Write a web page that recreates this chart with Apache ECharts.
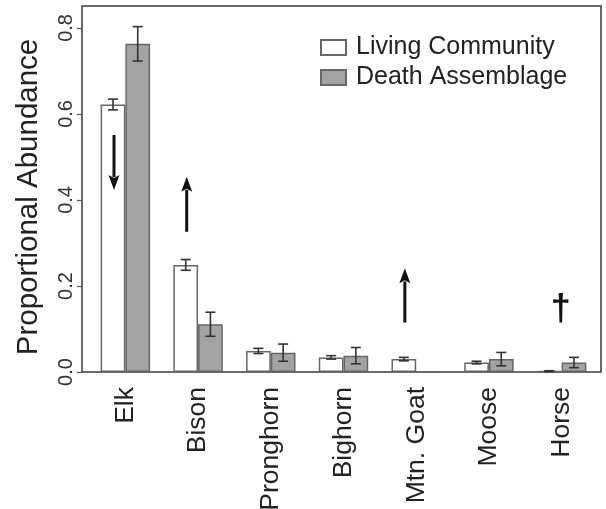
<!DOCTYPE html>
<html>
<head>
<meta charset="utf-8">
<script src="https://cdn.jsdelivr.net/npm/echarts@6/dist/echarts.min.js"></script>
<style>
html,body{margin:0;padding:0;background:#fff;}
#c{width:606px;height:509px;}
</style>
</head>
<body>
<div id="c"></div>
<script>
// ---- data ----
var categories = ['Elk', 'Bison', 'Pronghorn', 'Bighorn', 'Mtn. Goat', 'Moose', 'Horse'];
var livingValues = [0.622, 0.249, 0.049, 0.034, 0.030, 0.022, 0.002];
var livingErr    = [0.0125, 0.0125, 0.006, 0.004, 0.004, 0.003, 0.001];
var deathValues  = [0.763, 0.111, 0.045, 0.038, 0, 0.030, 0.022];
var deathErr     = [0.040, 0.028, 0.020, 0.019, 0, 0.0155, 0.012];
var yTicks = [0, 0.2, 0.4, 0.6, 0.8];
// annotation arrows: [category index, from value, to value]
var arrows = [[0, 0.551, 0.423], [1, 0.326, 0.454], [4, 0.115, 0.241]];
// dagger annotation: [category index, value]
var daggers = [[6, 0.145]];

var FONT = 'Liberation Sans, Arial, Helvetica, sans-serif';
var CAT_GAP = 0.32;

function barOffset(api, side) {
  var band = api.size([1, 0])[0];
  var bw = band * (1 - CAT_GAP) / 2;
  return side * bw / 2;
}

var errData = [];
for (var i = 0; i < categories.length; i++) {
  if (livingErr[i] > 0) errData.push([i, livingValues[i] - livingErr[i], livingValues[i] + livingErr[i], -1]);
  if (deathErr[i] > 0) errData.push([i, deathValues[i] - deathErr[i], deathValues[i] + deathErr[i], 1]);
}

var chart = echarts.init(document.getElementById('c'), null, {renderer: 'canvas'});
chart.setOption({
  animation: false,
  backgroundColor: '#fff',
  grid: [
    {left: 82, right: 5, top: 6, bottom: 137, outerBoundsMode: 'none', containLabel: false,
     show: true, borderColor: '#3a3a3a', borderWidth: 1.5, backgroundColor: 'transparent'},
    {left: 89, right: 8, top: 6, bottom: 137, outerBoundsMode: 'none', containLabel: false}
  ],
  legend: {
    orient: 'vertical',
    left: 315,
    top: 30,
    itemWidth: 25,
    itemHeight: 15,
    itemGap: 5,
    icon: 'rect',
    data: ['Living Community', 'Death Assemblage'],
    textStyle: {fontFamily: FONT, fontSize: 25, color: '#222', padding: [0, 0, 0, 5]}
  },
  xAxis: [
    {type: 'category', gridIndex: 0, data: categories, show: false},
    {type: 'category', gridIndex: 1, data: categories,
     axisLine: {show: false}, axisTick: {show: false},
     axisLabel: {rotate: 90, margin: 15, fontFamily: FONT, fontSize: 26.5, color: '#222', interval: 0}}
  ],
  yAxis: [
    {type: 'value', gridIndex: 0, min: 0, max: 0.851,
     name: 'Proportional Abundance', nameLocation: 'middle', nameGap: 38,
     nameTextStyle: {fontFamily: FONT, fontSize: 29.5, color: '#222', padding: [0, 16, 0, 0]},
     axisLine: {show: false},
     axisTick: {show: true, length: 5, lineStyle: {color: '#555', width: 1.2}, customValues: yTicks},
     axisLabel: {rotate: 90, margin: 6, fontFamily: FONT, fontSize: 20, color: '#333',
                 customValues: yTicks, formatter: function (v) { return v.toFixed(1); }},
     splitLine: {show: false}},
    {type: 'value', gridIndex: 1, min: 0, max: 0.851, show: false, splitLine: {show: false}}
  ],
  series: [
    {name: 'Living Community', type: 'bar', xAxisIndex: 1, yAxisIndex: 1,
     data: livingValues, barGap: '0%', barCategoryGap: (CAT_GAP * 100) + '%',
     itemStyle: {color: '#ffffff', borderColor: '#666', borderWidth: 1.5}},
    {name: 'Death Assemblage', type: 'bar', xAxisIndex: 1, yAxisIndex: 1,
     data: deathValues, barGap: '0%', barCategoryGap: (CAT_GAP * 100) + '%',
     itemStyle: {color: '#a3a3a3', borderColor: '#666', borderWidth: 1.5}},
    {type: 'custom', xAxisIndex: 1, yAxisIndex: 1, data: errData, silent: true, z: 5,
     renderItem: function (params, api) {
       var c = api.value(0);
       var lo = api.coord([c, api.value(1)]);
       var hi = api.coord([c, api.value(2)]);
       var x = lo[0] + barOffset(api, api.value(3));
       var w = 5;
       var st = {stroke: '#333', lineWidth: 1.6};
       return {type: 'group', children: [
         {type: 'line', shape: {x1: x, y1: lo[1], x2: x, y2: hi[1]}, style: st},
         {type: 'line', shape: {x1: x - w, y1: lo[1], x2: x + w, y2: lo[1]}, style: st},
         {type: 'line', shape: {x1: x - w, y1: hi[1], x2: x + w, y2: hi[1]}, style: st}
       ]};
     }},
    {type: 'custom', xAxisIndex: 1, yAxisIndex: 1, data: arrows, silent: true, z: 6,
     renderItem: function (params, api) {
       var c = api.value(0);
       var a = api.coord([c, api.value(1)]);
       var b = api.coord([c, api.value(2)]);
       var x = a[0] + barOffset(api, -1) + 1;
       var dir = b[1] > a[1] ? 1 : -1;
       var headLen = 15, headW = 5.5;
       var baseY = b[1] - dir * headLen;
       return {type: 'group', children: [
         {type: 'line', shape: {x1: x, y1: a[1], x2: x, y2: baseY + dir * 2}, style: {stroke: '#111', lineWidth: 3}},
         {type: 'polygon', shape: {points: [[x, b[1]], [x - headW, baseY], [x, baseY + dir * 3], [x + headW, baseY]]}, style: {fill: '#111'}}
       ]};
     }},
    {type: 'custom', xAxisIndex: 1, yAxisIndex: 1, data: daggers, silent: true, z: 6,
     renderItem: function (params, api) {
       var p = api.coord([api.value(0), api.value(1)]);
       return {type: 'text', x: p[0] - 1, y: p[1],
               style: {text: '\u2020', fontFamily: FONT, fontSize: 36, fontWeight: 'bold', fill: '#111', align: 'center', verticalAlign: 'middle'}};
     }}
  ]
});
</script>
</body>
</html>
